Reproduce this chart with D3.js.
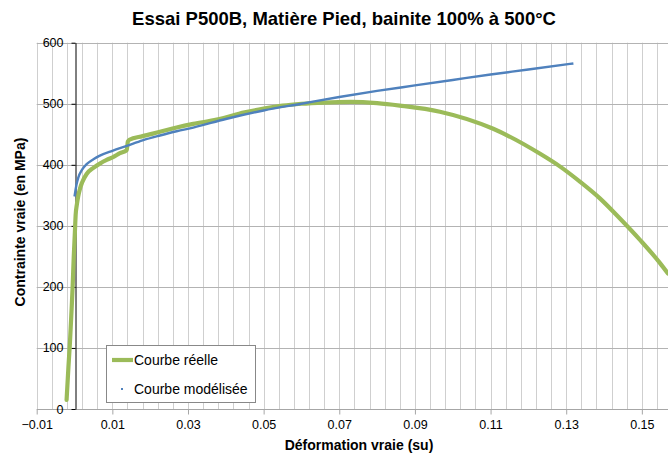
<!DOCTYPE html>
<html><head><meta charset="utf-8">
<script src="https://cdn.jsdelivr.net/npm/d3@7"></script>
<style>
body{margin:0;background:#fff;}
svg{display:block;font-family:"Liberation Sans",Arial,sans-serif;}
</style></head>
<body><svg id="c" width="668" height="457"></svg>
<script>
const title = "Essai P500B, Matière Pied, bainite 100% à 500°C";
const xTitle = "Déformation vraie (su)";
const yTitle = "Contrainte vraie (en MPa)";
const seriesNames = ["Courbe réelle", "Courbe modélisée"];
const xTicks = [-0.01, 0.01, 0.03, 0.05, 0.07, 0.09, 0.11, 0.13, 0.15];
const yTicks = [0, 100, 200, 300, 400, 500, 600];

// Courbe réelle (green)
const reelEps = [-0.0021,-0.0016,-0.0012,-0.0008,-0.0005,-0.0002,0.0001,0.0003,0.0006,0.001,0.00145,0.002,0.0032,0.005,0.0067,0.0085,0.0103,0.012,0.0138,0.0141,0.0145,0.018,0.0226,0.027,0.0314,0.0376,0.045,0.05,0.055,0.06,0.066,0.073,0.08,0.086,0.0966,0.1107,0.1231,0.1284,0.1337,0.1389,0.1442,0.1495,0.1548,0.1569];
const reelSig = [15,70,110,160,200,250,290,318,334,349,361,371,385,395,402,408,413,419,424,438,441,447,454,461,467,474,486,492,497,500,502,503,501,497,487,459,418,397,372,345,312,277,239,222];

// Courbe modélisée (blue)
const modEps = [0,0.0005,0.001,0.002,0.0032,0.005,0.0067,0.01,0.0138,0.018,0.0226,0.027,0.0314,0.04,0.05,0.06,0.07,0.08,0.09,0.1,0.11,0.12,0.1319];
const modSig = [348,367,379,392,401,409,415,423,431,440,448,455,461,475,489,500,511,521,530,539,548,556,566];

const svg = d3.select("#c");
const x = d3.scaleLinear().domain([-0.01, 0.17]).range([36.7, 717.5]);
const y = d3.scaleLinear().domain([0, 600]).range([409, 42.7]);
const plotRight = 668;

svg.append("defs").append("clipPath").attr("id","pc")
  .append("rect").attr("x",36.7).attr("y",40).attr("width",plotRight-36.7).attr("height",372);

// vertical minor gridlines
const vgrid = d3.range(0, 46).map(i => -0.01 + i*0.004).filter(v => x(v) <= plotRight);
svg.append("g").selectAll("line").data(vgrid).join("line")
  .attr("x1", d => Math.round(x(d))+0.5).attr("x2", d => Math.round(x(d))+0.5)
  .attr("y1", y(600)).attr("y2", y(0))
  .attr("stroke", "#cfcfcf").attr("stroke-width", 1);

// horizontal gridlines
svg.append("g").selectAll("line").data(yTicks.filter(v=>v>0)).join("line")
  .attr("x1", x(-0.01)).attr("x2", plotRight)
  .attr("y1", d => Math.round(y(d))+0.5).attr("y2", d => Math.round(y(d))+0.5)
  .attr("stroke", "#b3b3b3").attr("stroke-width", 1);

// x axis
const xAxis = svg.append("g").attr("transform", `translate(0,${Math.round(y(0))+0.5})`)
  .call(d3.axisBottom(x).tickValues(xTicks).tickSize(5).tickPadding(6).tickFormat(d3.format(".2f")));
xAxis.select(".domain").attr("d", `M${x(-0.01)},0H${plotRight}`).attr("stroke","#a6a6a6");
xAxis.selectAll(".tick line").attr("stroke","#a6a6a6");
xAxis.selectAll("text").attr("font-size", 12.5).attr("fill","#000");

// y axis at x=0
const yAxis = svg.append("g").attr("transform", `translate(${Math.round(x(0))+0.5},0)`)
  .call(d3.axisLeft(y).tickValues(yTicks).tickSize(4).tickPadding(8).tickSizeOuter(0));
yAxis.select(".domain").attr("stroke","#000");
yAxis.selectAll(".tick line").attr("stroke","#000");
yAxis.selectAll("text").attr("font-size", 12.5).attr("fill","#000");

// series
const g = svg.append("g").attr("clip-path","url(#pc)");
g.append("path").datum(reelEps.map((e,i)=>[e, reelSig[i]]))
  .attr("d", d3.line().x(d => x(d[0])).y(d => y(d[1])).curve(d3.curveMonotoneX))
  .attr("fill","none").attr("stroke","#9bbb59").attr("stroke-width",4.2)
  .attr("stroke-linejoin","round").attr("stroke-linecap","round");
g.append("path").datum(modEps.map((e,i)=>[e, modSig[i]]))
  .attr("d", d3.line().x(d => x(d[0])).y(d => y(d[1])).curve(d3.curveMonotoneX))
  .attr("fill","none").attr("stroke","#4f81bd").attr("stroke-width",2.4);

// titles
svg.append("text").attr("x", 344).attr("y", 25).attr("text-anchor","middle")
  .attr("font-size", 18.5).attr("font-weight","bold").text(title);
svg.append("text").attr("x", 359).attr("y", 450).attr("text-anchor","middle")
  .attr("font-size", 14).attr("font-weight","bold").text(xTitle);
svg.append("text").attr("transform","translate(25,222) rotate(-90)").attr("text-anchor","middle")
  .attr("font-size", 14).attr("font-weight","bold").text(yTitle);

// legend
const lg = svg.append("g");
lg.append("rect").attr("x",106.5).attr("y",345.5).attr("width",149).attr("height",57)
  .attr("fill","#fff").attr("stroke","#888").attr("stroke-width",1);
lg.append("line").attr("x1",112).attr("x2",133).attr("y1",360).attr("y2",360)
  .attr("stroke","#9bbb59").attr("stroke-width",4.2);
lg.append("text").attr("x",134).attr("y",365).attr("font-size",14).text(seriesNames[0]);
lg.append("rect").attr("x",121).attr("y",388).attr("width",2).attr("height",2).attr("fill","#4f81bd");
lg.append("text").attr("x",134).attr("y",394).attr("font-size",14).text(seriesNames[1]);
</script></body></html>
